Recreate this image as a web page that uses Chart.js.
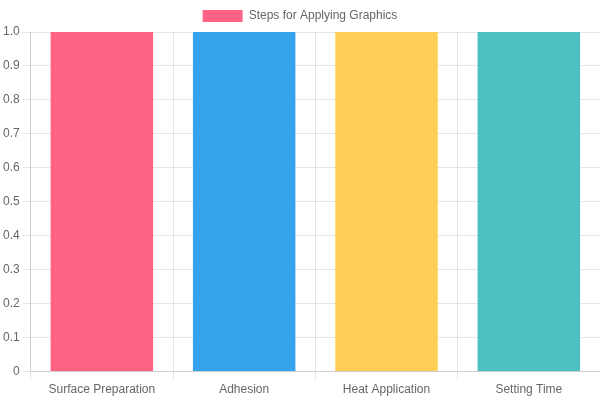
<!DOCTYPE html>
<html>
<head>
<meta charset="utf-8">
<script src="https://cdn.jsdelivr.net/npm/chart.js@4"></script>
<style>html,body{margin:0;padding:0;background:#fff}#wrap{width:600px;height:400px}</style>
</head>
<body>
<div id="wrap"><canvas id="c"></canvas></div>
<script>
const categories = ["Surface Preparation", "Adhesion", "Heat Application", "Setting Time"];
const values = [1, 1, 1, 1];
const seriesLabel = "Steps for Applying Graphics";
const colors = ["rgb(255, 99, 132)", "rgb(54, 162, 235)", "rgb(255, 206, 86)", "rgb(75, 192, 192)"];

new Chart(document.getElementById('c'), {
  type: 'bar',
  data: {
    labels: categories,
    datasets: [{
      label: seriesLabel,
      data: values,
      backgroundColor: colors,
      borderWidth: 0
    }]
  },
  options: {
    responsive: true,
    maintainAspectRatio: false,
    animation: false,
    scales: {
      y: { beginAtZero: true }
    }
  }
});
</script>
</body>
</html>
